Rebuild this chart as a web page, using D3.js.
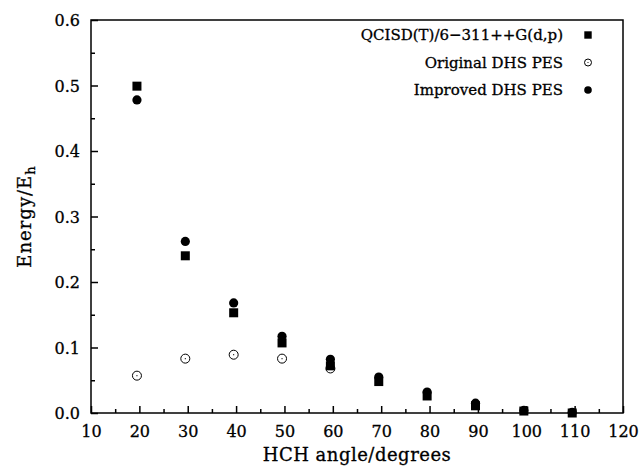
<!DOCTYPE html>
<html>
<head>
<meta charset="utf-8">
<script src="https://cdn.jsdelivr.net/npm/d3@7"></script>
<style>
    body { margin: 0; background: white; }
    text { font-family: "DejaVu Serif", serif; fill: black; stroke: black; stroke-width: 0.3px; }
</style>
</head>
<body>
<svg id="chart" width="639" height="466"></svg>
<script>
// data
const angles = [19.5, 29.5, 39.5, 49.5, 59.5, 69.5, 79.5, 89.5, 99.5, 109.5];
const qcisd = [0.499, 0.240, 0.153, 0.107, 0.072, 0.048, 0.026, 0.011, 0.003, 0.000];
const improved = [0.478, 0.262, 0.168, 0.117, 0.082, 0.055, 0.032, 0.015, 0.004, 0.001];
const originalAngles = [19.5, 29.5, 39.5, 49.5, 59.5];
const original = [0.057, 0.083, 0.089, 0.083, 0.068];
const xTicks = [10, 20, 30, 40, 50, 60, 70, 80, 90, 100, 110, 120];
const yTicks = [0.0, 0.1, 0.2, 0.3, 0.4, 0.5, 0.6];
const legendNames = ["QCISD(T)/6\u2212311++G(d,p)", "Original DHS PES", "Improved DHS PES"];

const svg = d3.select("#chart");
const plotL = 91, plotR = 623, plotT = 20, plotB = 413;

const x = d3.scaleLinear().domain([10, 120]).range([plotL, plotR]);
const y = d3.scaleLinear().domain([0, 0.6]).range([plotB, plotT]);

// frame
svg.append("rect")
    .attr("x", plotL).attr("y", plotT)
    .attr("width", plotR - plotL).attr("height", plotB - plotT)
    .attr("fill", "none").attr("stroke", "black").attr("stroke-width", 1.5);

// x axis, ticks pointing in
const xAxis = svg.append("g").attr("transform", `translate(0,${plotB})`);
xAxis.append("g").call(d3.axisBottom(x).tickValues(d3.range(15, 120, 10)).tickSize(-4).tickFormat(""));
xAxis.append("g").call(d3.axisBottom(x).tickValues(xTicks).tickSize(-7).tickFormat(d3.format("d")));
xAxis.selectAll(".domain").remove();
xAxis.selectAll("line").attr("stroke-width", 1.5);
xAxis.selectAll("text")
    .attr("y", 24).attr("dy", 0)
    .style("font-size", "16px");

// y axis, ticks pointing in
const yAxis = svg.append("g").attr("transform", `translate(${plotL},0)`);
yAxis.append("g").call(d3.axisLeft(y).tickValues([0.05, 0.15, 0.25, 0.35, 0.45, 0.55]).tickSize(-4).tickFormat(""));
yAxis.append("g").call(d3.axisLeft(y).tickValues(yTicks).tickSize(-7).tickFormat(d3.format(".1f")));
yAxis.selectAll(".domain").remove();
yAxis.selectAll("line").attr("stroke-width", 1.5);
yAxis.selectAll("text")
    .attr("x", -11).attr("dy", "0.35em")
    .style("font-size", "16px");

// axis titles
svg.append("text")
    .attr("x", (plotL + plotR) / 2).attr("y", 461)
    .attr("text-anchor", "middle")
    .style("font-size", "18px")
    .style("letter-spacing", "0.5px")
    .text("HCH angle/degrees");

const yTitle = svg.append("text")
    .attr("transform", `translate(31,${(plotT + plotB) / 2}) rotate(-90)`)
    .attr("text-anchor", "middle")
    .style("font-size", "18px")
    .style("letter-spacing", "1px");
yTitle.append("tspan").text("Energy/E");
yTitle.append("tspan").attr("dy", 4).style("font-size", "13px").text("h");

// markers
function openCircle(g, cx, cy, r) {
    g.append("circle").attr("cx", cx).attr("cy", cy).attr("r", r)
        .attr("fill", "white").attr("stroke", "black").attr("stroke-width", 1);
    g.append("circle").attr("cx", cx).attr("cy", cy).attr("r", 0.6).attr("fill", "black");
}

const pts = svg.append("g");
originalAngles.forEach((a, i) => openCircle(pts, x(a), y(original[i]), 4.5));

pts.selectAll(".sq")
    .data(angles.map((a, i) => [a, qcisd[i]]))
    .enter()
    .append("rect")
    .attr("class", "sq")
    .attr("x", d => x(d[0]) - 4.5)
    .attr("y", d => y(d[1]) - 4.5)
    .attr("width", 9).attr("height", 9)
    .attr("fill", "black");

pts.selectAll(".dot")
    .data(angles.map((a, i) => [a, improved[i]]))
    .enter()
    .append("circle")
    .attr("class", "dot")
    .attr("cx", d => x(d[0]))
    .attr("cy", d => y(d[1]))
    .attr("r", 4.6)
    .attr("fill", "black");

// legend
const legend = svg.append("g");
legendNames.forEach((name, i) => {
    const ly = 35 + i * 27.5;
    legend.append("text")
        .attr("x", 563).attr("y", ly).attr("dy", "0.35em")
        .attr("text-anchor", "end")
        .style("font-size", "15px")
        .text(name);
    if (i === 0) {
        legend.append("rect").attr("x", 588 - 3.7).attr("y", ly - 3.7)
            .attr("width", 7.4).attr("height", 7.4).attr("fill", "black");
    } else if (i === 1) {
        openCircle(legend, 588, ly, 3.5);
    } else {
        legend.append("circle").attr("cx", 588).attr("cy", ly).attr("r", 3.8).attr("fill", "black");
    }
});
</script>
</body>
</html>
